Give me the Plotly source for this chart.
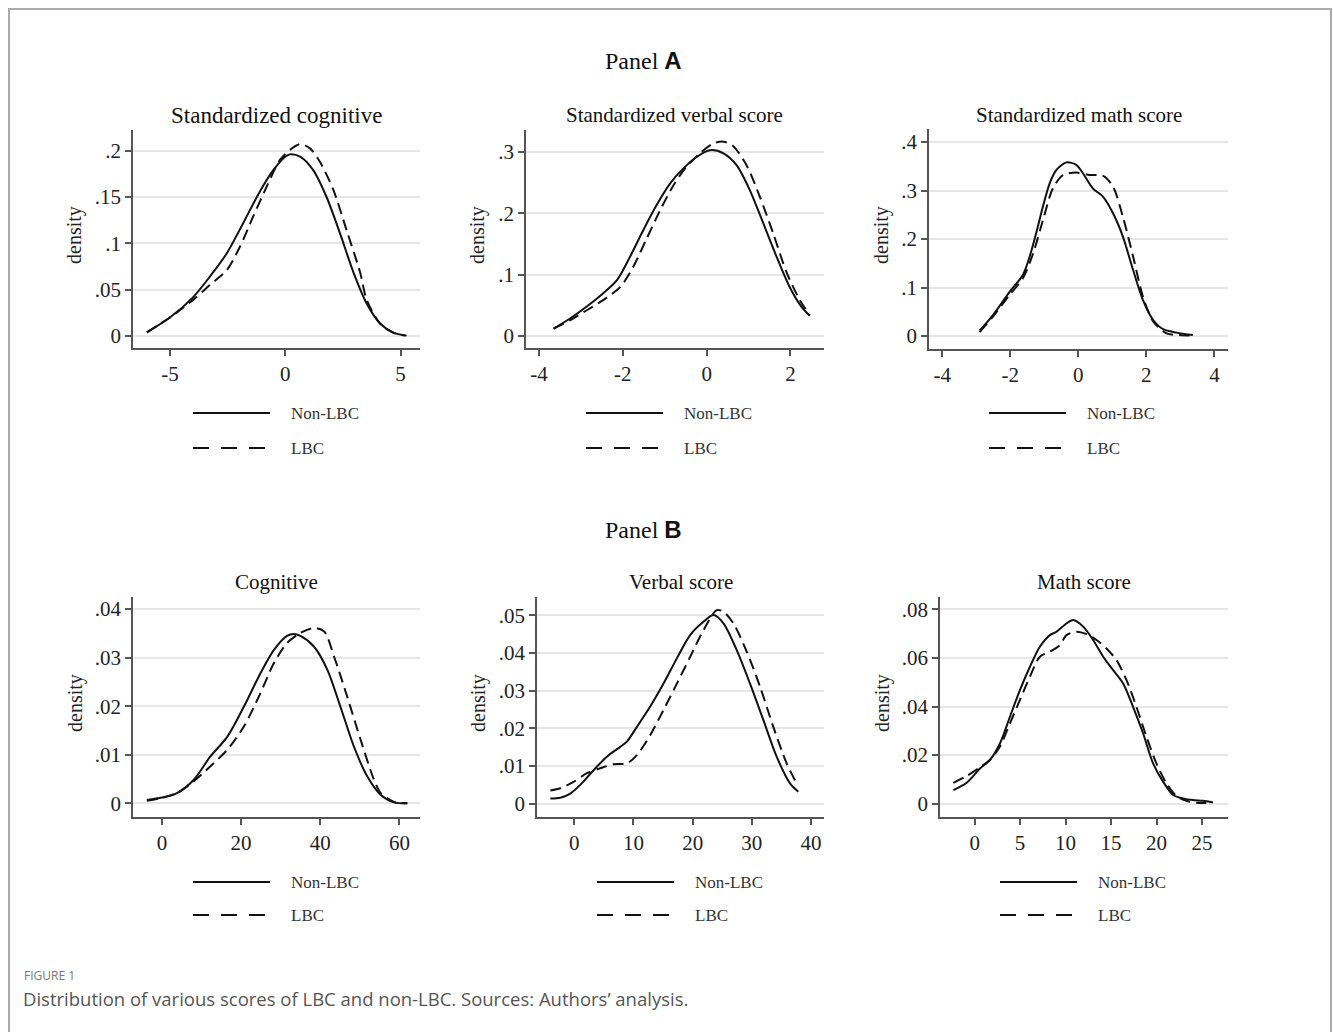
import plotly.graph_objects as go

# ---------------- DATA ----------------
# Panel A: standardized scores
std_cog_x_non = [-6.0, -5.0, -3.99, -3.27, -2.54, -1.82, -1.1, -0.52, 0.0, 0.2, 0.64, 1.21, 1.79, 2.37, 2.95, 3.53, 4.1, 4.68, 5.26]
std_cog_y_non = [0.004, 0.020, 0.042, 0.064, 0.089, 0.122, 0.156, 0.179, 0.1935, 0.196, 0.1935, 0.179, 0.150, 0.111, 0.069, 0.035, 0.0137, 0.0036, 0.0004]
std_cog_x_lbc = [-6.0, -5.0, -3.99, -3.27, -2.54, -1.97, -1.39, -0.81, -0.23, 0.2, 0.64, 1.07, 1.5, 2.08, 2.66, 3.24, 3.53, 4.1, 4.68, 5.2]
std_cog_y_lbc = [0.004, 0.020, 0.039, 0.055, 0.071, 0.096, 0.129, 0.161, 0.190, 0.2007, 0.207, 0.2025, 0.188, 0.158, 0.114, 0.069, 0.039, 0.0137, 0.0036, 0.0004]

std_verb_x_non = [-3.65, -3.25, -2.86, -2.46, -2.14, -1.83, -1.51, -1.19, -0.87, -0.56, -0.24, 0.08, 0.40, 0.71, 1.03, 1.35, 1.67, 1.98, 2.26, 2.46]
std_verb_y_non = [0.012, 0.029, 0.048, 0.070, 0.091, 0.129, 0.173, 0.214, 0.249, 0.273, 0.292, 0.303, 0.298, 0.279, 0.238, 0.184, 0.129, 0.080, 0.048, 0.033]
std_verb_x_lbc = [-3.65, -3.25, -2.86, -2.46, -2.06, -1.75, -1.43, -1.11, -0.79, -0.48, -0.16, 0.16, 0.40, 0.63, 0.95, 1.27, 1.59, 1.90, 2.22, 2.46]
std_verb_y_lbc = [0.012, 0.026, 0.042, 0.059, 0.080, 0.113, 0.159, 0.205, 0.246, 0.276, 0.298, 0.314, 0.317, 0.310, 0.279, 0.227, 0.167, 0.105, 0.059, 0.034]

std_math_x_non = [-2.9, -2.51, -2.02, -1.63, -1.43, -1.24, -1.04, -0.84, -0.65, -0.35, -0.06, 0.14, 0.43, 0.73, 1.02, 1.31, 1.61, 1.90, 2.2, 2.49, 2.88, 3.37]
std_math_y_non = [0.011, 0.043, 0.091, 0.126, 0.164, 0.212, 0.267, 0.315, 0.342, 0.358, 0.353, 0.335, 0.304, 0.287, 0.253, 0.205, 0.136, 0.074, 0.033, 0.014, 0.007, 0.002]
std_math_x_lbc = [-2.9, -2.51, -2.02, -1.63, -1.33, -1.04, -0.75, -0.45, -0.06, 0.33, 0.73, 1.02, 1.31, 1.61, 1.90, 2.2, 2.59, 2.98, 3.37]
std_math_y_lbc = [0.008, 0.040, 0.085, 0.119, 0.170, 0.239, 0.304, 0.332, 0.337, 0.332, 0.330, 0.308, 0.246, 0.164, 0.081, 0.030, 0.0055, 0.002, 0.0007]

# Panel B: raw scores
cog_x_non = [-3.8, 0.0, 3.8, 8.0, 12.2, 16.5, 20.7, 24.9, 28.3, 31.6, 33.3, 35.0, 38.4, 41.8, 45.1, 48.5, 51.9, 55.3, 58.6, 62.0]
cog_y_non = [0.0007, 0.0012, 0.0021, 0.0048, 0.0096, 0.0137, 0.0199, 0.0268, 0.0316, 0.0345, 0.0349, 0.0345, 0.0323, 0.0275, 0.0199, 0.0117, 0.0055, 0.0017, 0.0002, 0.0]
cog_x_lbc = [-3.8, 0.0, 3.8, 8.0, 12.2, 16.5, 20.7, 24.9, 28.3, 31.6, 35.0, 38.4, 41.0, 43.5, 46.8, 50.2, 53.6, 55.3, 58.6, 62.0]
cog_y_lbc = [0.0005, 0.0011, 0.0021, 0.0045, 0.0076, 0.0110, 0.0158, 0.0227, 0.0289, 0.0330, 0.0351, 0.0361, 0.0354, 0.0302, 0.0220, 0.0131, 0.0048, 0.0021, 0.0003, 0.0]

verb_x_non = [-4.05, -2.36, -0.68, 1.01, 3.26, 5.51, 7.76, 8.89, 10.58, 12.83, 15.08, 17.33, 19.58, 21.83, 23.52, 25.21, 27.45, 29.7, 31.96, 34.2, 36.46, 37.86]
verb_y_non = [0.0014, 0.0016, 0.0027, 0.0050, 0.0089, 0.0125, 0.0151, 0.0165, 0.0204, 0.0258, 0.0319, 0.0386, 0.0448, 0.0483, 0.0501, 0.0479, 0.0408, 0.0319, 0.0222, 0.0125, 0.0054, 0.0032]
verb_x_lbc = [-4.05, -2.36, -0.11, 2.14, 4.39, 6.64, 8.89, 10.58, 12.83, 15.08, 17.33, 19.58, 21.83, 24.08, 25.21, 26.89, 29.14, 31.39, 33.64, 35.89, 37.58]
verb_y_lbc = [0.0035, 0.0041, 0.0058, 0.0081, 0.0094, 0.0105, 0.0107, 0.0129, 0.0182, 0.0249, 0.0319, 0.0390, 0.0461, 0.0514, 0.0510, 0.0479, 0.0404, 0.0311, 0.0204, 0.0107, 0.0054]

math_x_non = [-2.34, -0.88, 0.59, 1.68, 2.78, 3.88, 4.98, 6.08, 7.17, 8.27, 9.0, 10.1, 10.83, 11.93, 13.03, 14.13, 15.23, 16.33, 17.42, 18.52, 19.62, 20.72, 21.82, 22.91, 24.01, 25.11, 26.21]
math_y_non = [0.0056, 0.0086, 0.0145, 0.0180, 0.0248, 0.0358, 0.0468, 0.0564, 0.0646, 0.0694, 0.0708, 0.0742, 0.0756, 0.0729, 0.0674, 0.0605, 0.0550, 0.0495, 0.0399, 0.0290, 0.0166, 0.0091, 0.0036, 0.0022, 0.0015, 0.0012, 0.0005]
math_x_lbc = [-2.34, -0.88, 0.59, 1.68, 2.78, 3.88, 4.98, 6.08, 7.17, 8.27, 9.37, 10.1, 11.2, 12.3, 13.4, 14.5, 15.6, 16.7, 17.79, 18.89, 19.99, 21.09, 22.19, 23.28, 24.38, 25.48]
math_y_lbc = [0.0086, 0.0114, 0.0150, 0.0180, 0.0235, 0.0331, 0.0427, 0.0523, 0.0605, 0.0626, 0.0653, 0.0694, 0.0708, 0.0698, 0.0674, 0.0639, 0.0591, 0.0509, 0.0399, 0.0276, 0.0166, 0.0084, 0.0032, 0.0012, 0.0004, 0.0003]

titles = ["Standardized cognitive", "Standardized verbal score", "Standardized math score",
          "Cognitive", "Verbal score", "Math score"]
series_names = ["Non-LBC", "LBC"]

x_tickvals = [[-5, 0, 5], [-4, -2, 0, 2], [-4, -2, 0, 2, 4],
              [0, 20, 40, 60], [0, 10, 20, 30, 40], [0, 5, 10, 15, 20, 25]]
x_ticktext = [["-5", "0", "5"], ["-4", "-2", "0", "2"], ["-4", "-2", "0", "2", "4"],
              ["0", "20", "40", "60"], ["0", "10", "20", "30", "40"], ["0", "5", "10", "15", "20", "25"]]
y_tickvals = [[0, 0.05, 0.1, 0.15, 0.2], [0, 0.1, 0.2, 0.3], [0, 0.1, 0.2, 0.3, 0.4],
              [0, 0.01, 0.02, 0.03, 0.04], [0, 0.01, 0.02, 0.03, 0.04, 0.05], [0, 0.02, 0.04, 0.06, 0.08]]
y_ticktext = [["0", ".05", ".1", ".15", ".2"], ["0", ".1", ".2", ".3"], ["0", ".1", ".2", ".3", ".4"],
              ["0", ".01", ".02", ".03", ".04"], ["0", ".01", ".02", ".03", ".04", ".05"], ["0", ".02", ".04", ".06", ".08"]]

panel_labels = ["Panel", "Panel"]
panel_letters = ["A", "B"]
fig_label = "FIGURE 1"
caption = "Distribution of various scores of LBC and non-LBC. Sources: Authors\u2019 analysis."

curves = [
    (std_cog_x_non, std_cog_y_non, std_cog_x_lbc, std_cog_y_lbc),
    (std_verb_x_non, std_verb_y_non, std_verb_x_lbc, std_verb_y_lbc),
    (std_math_x_non, std_math_y_non, std_math_x_lbc, std_math_y_lbc),
    (cog_x_non, cog_y_non, cog_x_lbc, cog_y_lbc),
    (verb_x_non, verb_y_non, verb_x_lbc, verb_y_lbc),
    (math_x_non, math_y_non, math_x_lbc, math_y_lbc),
]

# ---------------- LAYOUT / STYLE ----------------
W, H = 1333, 1032
SERIF = "Liberation Serif"
SANS = "Open Sans"


def px(p):
    return p / W


def py(p):
    return 1 - p / H


# plot boxes in pixels: left, right, top, bottom
boxes = [(133, 420, 130, 348), (526, 824, 130, 348), (929, 1228, 129, 349),
         (133, 420, 597, 817), (537, 824, 597, 817), (940, 1228, 597, 817)]
x_ranges = [[-6.6, 5.84], [-4.31, 2.80], [-4.39, 4.40], [-7.3, 65.2], [-6.3, 42.2], [-3.81, 27.86]]
y_ranges = [[-0.01295, 0.2223], [-0.0196, 0.336], [-0.0268, 0.4268],
            [-0.00282, 0.0425], [-0.00353, 0.0549], [-0.00548, 0.0851]]
title_sizes = [23, 21, 21, 21, 21, 21]
title_y = [116, 115, 115, 582, 582, 582]
legend_y = [(413, 448), (413, 448), (413, 448), (882, 915), (882, 915), (882, 915)]
density_x = [75, 478, 882, 75, 478, 882]

fig = go.Figure()
annotations = []
shapes = []

for i, (xs0, ys0, xs1, ys1) in enumerate(curves):
    n = i + 1
    xa = "x" if n == 1 else f"x{n}"
    ya = "y" if n == 1 else f"y{n}"
    fig.add_trace(go.Scatter(x=xs0, y=ys0, mode="lines", name=series_names[0], xaxis=xa, yaxis=ya,
                             line=dict(color="#111111", width=2, shape="spline", smoothing=0.8),
                             showlegend=False, hoverinfo="skip"))
    fig.add_trace(go.Scatter(x=xs1, y=ys1, mode="lines", name=series_names[1], xaxis=xa, yaxis=ya,
                             line=dict(color="#111111", width=2, dash="11px,6px", shape="spline", smoothing=0.8),
                             showlegend=False, hoverinfo="skip"))
    l, r, t, b = boxes[i]
    axis_common = dict(showline=True, linecolor="#555555", linewidth=1.5, ticks="outside",
                       ticklen=6, tickcolor="#555555", tickwidth=1.5,
                       tickfont=dict(family=SERIF, size=21, color="#222222"), zeroline=False)
    fig.update_layout(**{
        ("xaxis" if n == 1 else f"xaxis{n}"): dict(
            domain=[px(l), px(r)], range=x_ranges[i], anchor=ya, tickmode="array",
            tickvals=x_tickvals[i], ticktext=x_ticktext[i], showgrid=False, **axis_common),
        ("yaxis" if n == 1 else f"yaxis{n}"): dict(
            domain=[py(b), py(t)], range=y_ranges[i], anchor=xa, tickmode="array",
            tickvals=y_tickvals[i], ticktext=y_ticktext[i], showgrid=True, gridcolor="#e6e6e6",
            gridwidth=1.5, **axis_common),
    })
    cx = (l + r) / 2
    annotations.append(dict(text=titles[i], x=px(cx), y=py(title_y[i]), xref="paper", yref="paper",
                            showarrow=False, xanchor="center", yanchor="middle",
                            font=dict(family=SERIF, size=title_sizes[i], color="#111111")))
    annotations.append(dict(text="density", x=px(density_x[i]), y=py((t + b) / 2 - 4), xref="paper", yref="paper",
                            showarrow=False, xanchor="center", yanchor="middle", textangle=-90,
                            font=dict(family=SERIF, size=20, color="#222222")))
    # legend keys
    lx0, lx1, tx = l + 60, l + 137, l + 156
    for j, (yy, dash) in enumerate(zip(legend_y[i], ["solid", "16px,12px"])):
        shapes.append(dict(type="line", xref="paper", yref="paper", x0=px(lx0), x1=px(lx1),
                           y0=py(yy), y1=py(yy), line=dict(color="#111111", width=2, dash=dash)))
        annotations.append(dict(text=series_names[j], x=px(tx), y=py(yy), xref="paper", yref="paper",
                                showarrow=False, xanchor="left", yanchor="middle",
                                font=dict(family=SERIF, size=17, color="#333333")))

# panel headings
for k, yy in enumerate([61, 529]):
    annotations.append(dict(
        text=f"{panel_labels[k]} <span style='font-family:Liberation Sans;font-weight:bold'>{panel_letters[k]}</span>",
        x=px(643), y=py(yy), xref="paper", yref="paper", showarrow=False, xanchor="center", yanchor="middle",
        font=dict(family=SERIF, size=24, color="#111111")))

# caption
annotations.append(dict(text=fig_label, x=px(22), y=py(975), xref="paper", yref="paper", showarrow=False,
                        xanchor="left", yanchor="middle", font=dict(family=SANS, size=12, color="#777777")))
annotations.append(dict(text=caption, x=px(21), y=py(998), xref="paper", yref="paper", showarrow=False,
                        xanchor="left", yanchor="middle", font=dict(family=SANS, size=18.5, color="#555555")))

# outer frame
shapes.append(dict(type="rect", xref="paper", yref="paper", x0=px(9), x1=px(1331), y0=py(1045), y1=py(9),
                   line=dict(color="#aaaaaa", width=2), fillcolor="rgba(0,0,0,0)"))

fig.update_layout(width=W, height=H, margin=dict(l=0, r=0, t=0, b=0), paper_bgcolor="white",
                  plot_bgcolor="white", showlegend=False, annotations=annotations, shapes=shapes)

fig.write_html("out.html", config={"displayModeBar": False},
               post_script="document.body.style.margin='0';document.body.style.overflow='hidden';")
